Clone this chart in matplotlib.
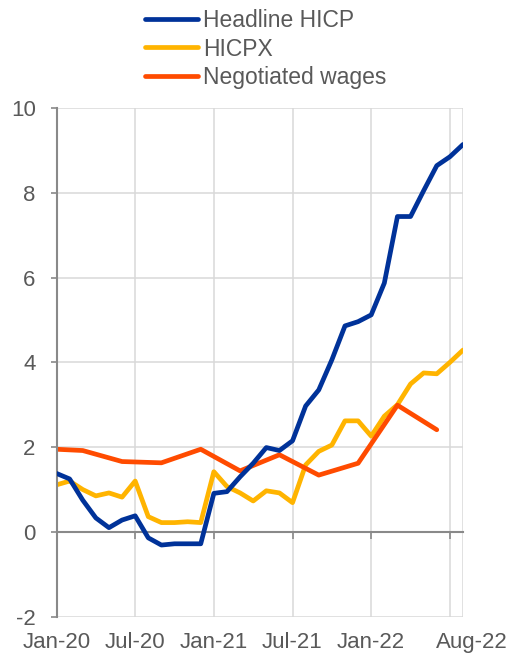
import matplotlib
matplotlib.use("Agg")
import matplotlib.pyplot as plt
import matplotlib.transforms as mtransforms
import numpy as np

# ---- data ----
months = list(range(32))  # Jan-20 .. Aug-22
headline_hicp = [1.38, 1.25, 0.75, 0.33, 0.10, 0.28, 0.38, -0.14, -0.31, -0.28,
                 -0.28, -0.28, 0.91, 0.95, 1.30, 1.62, 1.99, 1.92, 2.15, 2.97,
                 3.35, 4.06, 4.86, 4.96, 5.12, 5.87, 7.44, 7.44, 8.05, 8.64,
                 8.85, 9.14]
hicpx = [1.11, 1.20, 1.00, 0.85, 0.92, 0.82, 1.20, 0.36, 0.22, 0.22,
         0.24, 0.22, 1.42, 1.07, 0.92, 0.73, 0.97, 0.92, 0.69, 1.58,
         1.90, 2.05, 2.62, 2.62, 2.26, 2.73, 3.00, 3.49, 3.75, 3.73,
         4.00, 4.29]
wage_months = [0, 2, 5, 8, 11, 14, 17, 20, 23, 26, 29]
negotiated_wages = [1.95, 1.92, 1.66, 1.63, 1.95, 1.44, 1.82, 1.34, 1.62, 2.99, 2.41]

tick_pos = [0, 6, 12, 18, 24, 31]
tick_labels = ["Jan-20", "Jul-20", "Jan-21", "Jul-21", "Jan-22", "Aug-22"]
grid_x = [6, 12, 18, 24, 30, 31]
yticks = [-2, 0, 2, 4, 6, 8, 10]

BLUE = "#003299"
YELLOW = "#FFB400"
ORANGE = "#FF4B00"
TEXT = "#595959"
SPINE = "#898989"
GRID = "#D9D9D9"

plt.rcParams['font.family'] = ['Liberation Sans', 'DejaVu Sans']

fig = plt.figure(figsize=(5.11, 6.54), dpi=100)
ax = fig.add_axes([56.5/511, 1 - 616.7/654, (463 - 56.5)/511, (616.7 - 108)/654])

ax.set_xlim(0, 31)
ax.set_ylim(-2, 10)

# grid
for gx in grid_x:
    ax.axvline(gx, color=GRID, lw=1.1, zorder=0)
for gy in yticks:
    if gy != 0:
        ax.axhline(gy, color=GRID, lw=1.1, zorder=0)

lw = 3.4
ax.plot(months, headline_hicp, color=BLUE, lw=lw, label="Headline HICP", zorder=3,
        solid_joinstyle='round', solid_capstyle='round')
ax.plot(months, hicpx, color=YELLOW, lw=lw, label="HICPX", zorder=2,
        solid_joinstyle='round', solid_capstyle='round')
ax.plot(wage_months, negotiated_wages, color=ORANGE, lw=lw, label="Negotiated wages", zorder=2.5,
        solid_joinstyle='round', solid_capstyle='round')

# spines
for s in ["top", "right", "bottom"]:
    ax.spines[s].set_visible(False)
ax.spines["left"].set_color(SPINE)
ax.spines["left"].set_linewidth(1.5)

ax.set_yticks(yticks)
ax.set_yticklabels([str(v) for v in yticks])
ax.tick_params(axis="y", direction="out", length=4, width=1.2, color=SPINE,
               labelsize=16, labelcolor=TEXT, pad=11)

ax.set_xticks(tick_pos)
ax.set_xticklabels(tick_labels)
ax.tick_params(axis="x", length=0, labelsize=16, labelcolor=TEXT, pad=11)
# shift last label slightly right like reference
lab = ax.get_xticklabels()[-1]
lab.set_transform(lab.get_transform() + mtransforms.ScaledTranslation(9/100, 0, fig.dpi_scale_trans))

# zero axis line with ticks
sec = ax.secondary_xaxis(2/12)
sec.set_xticks(tick_pos[:-1] + [30])
sec.tick_params(axis="x", direction="out", length=5, width=1.2, color=SPINE, labelbottom=False)
sec.spines["bottom"].set_color(SPINE)
sec.spines["bottom"].set_linewidth(1.5)

leg = fig.legend(loc="upper left", bbox_to_anchor=(145/511, 1 - 9/654), frameon=False,
                 fontsize=16.5, handlelength=2.3, handletextpad=0.22, labelspacing=0.24,
                 borderpad=0, borderaxespad=0)
for t in leg.get_texts():
    t.set_color(TEXT)
for h in leg.get_lines():
    h.set_linewidth(3.4)

fig.savefig("out.png", dpi=100)
